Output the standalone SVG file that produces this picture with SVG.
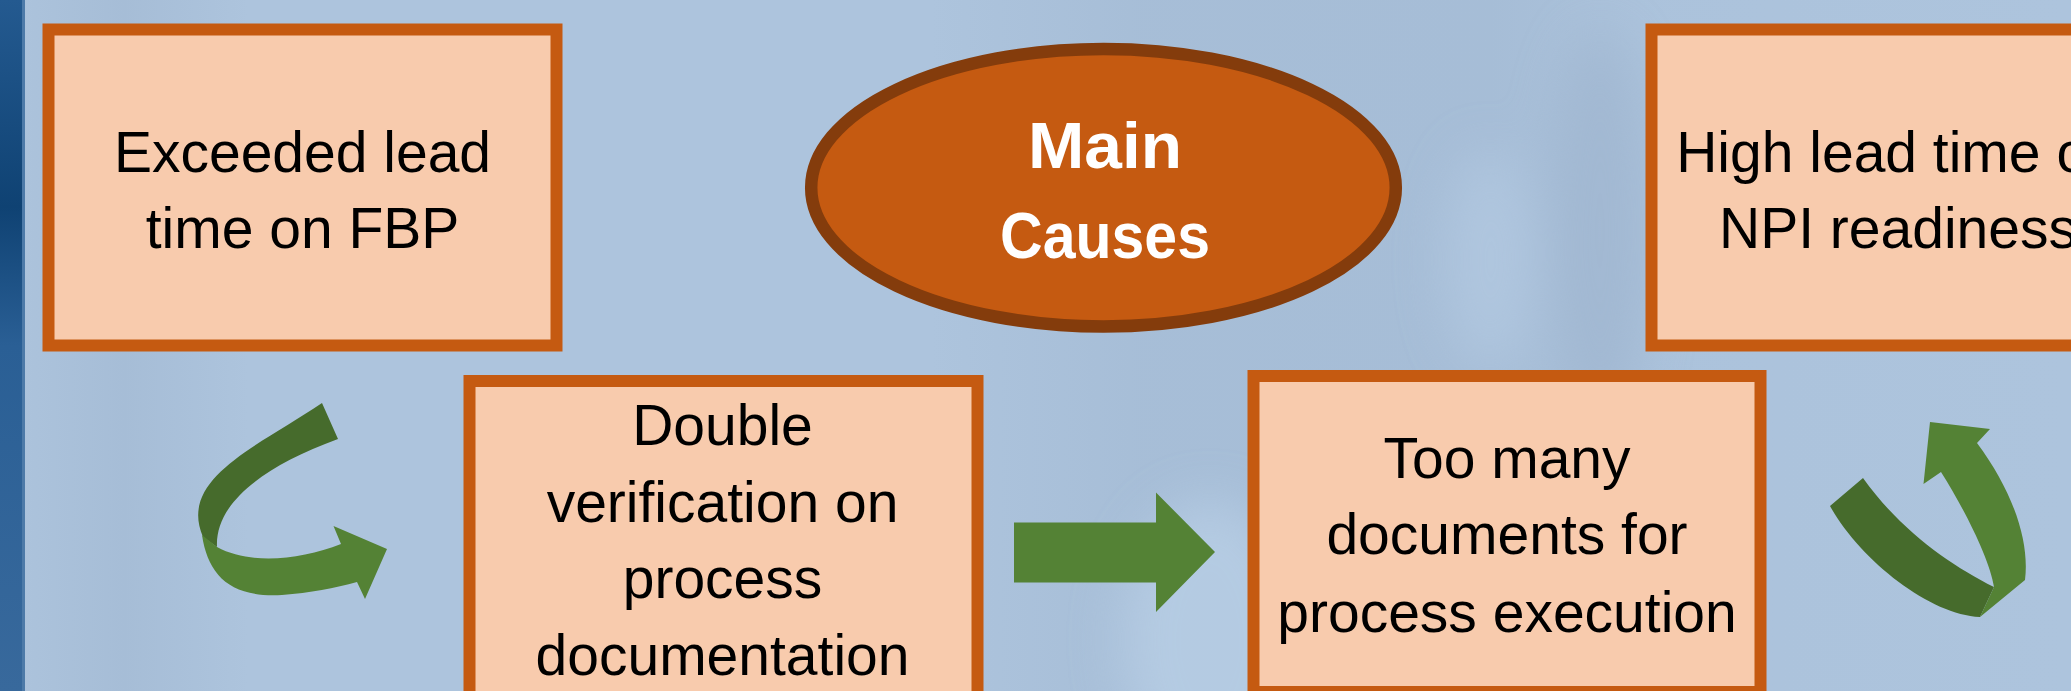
<svg xmlns="http://www.w3.org/2000/svg" width="2071" height="691" viewBox="0 0 2071 691">
  <defs>
    <linearGradient id="strip" x1="0" y1="0" x2="0" y2="1">
      <stop offset="0" stop-color="#245a90"/>
      <stop offset="0.3" stop-color="#0f4273"/>
      <stop offset="0.5" stop-color="#2a5f95"/>
      <stop offset="1" stop-color="#38699c"/>
    </linearGradient>
    <linearGradient id="bands" x1="0" y1="0" x2="1" y2="0">
      <stop offset="0" stop-color="#9fb6d0" stop-opacity="0.0"/>
      <stop offset="0.06" stop-color="#9fb6d0" stop-opacity="0.5"/>
      <stop offset="0.12" stop-color="#9fb6d0" stop-opacity="0.0"/>
      <stop offset="0.45" stop-color="#9fb6d0" stop-opacity="0.0"/>
      <stop offset="0.55" stop-color="#9fb6d0" stop-opacity="0.45"/>
      <stop offset="0.72" stop-color="#9fb6d0" stop-opacity="0.5"/>
      <stop offset="0.8" stop-color="#9fb6d0" stop-opacity="0.1"/>
      <stop offset="1" stop-color="#9fb6d0" stop-opacity="0.0"/>
    </linearGradient>
    <filter id="blur" x="-50%" y="-50%" width="200%" height="200%">
      <feGaussianBlur stdDeviation="25"/>
    </filter>
    <style>
      .box { fill: #f8cbad; stroke: #c55a11; stroke-width: 12; }
      .lbl { font-family: "Liberation Sans", Arial, sans-serif; font-size: 57px; fill: #000; text-anchor: middle; }
      .main { font-family: "Liberation Sans", Arial, sans-serif; font-size: 64px; font-weight: bold; fill: #fff; text-anchor: middle; }
      .green { fill: #548235; }
      .dgreen { fill: #466b2c; }
    </style>
  </defs>

  <!-- background -->
  <rect x="0" y="0" width="2071" height="691" fill="#adc4dd"/>
  <rect x="0" y="0" width="2071" height="691" fill="url(#bands)"/>
  <g filter="url(#blur)" opacity="0.6">
    <ellipse cx="1210" cy="640" rx="90" ry="140" fill="#bed4ea"/>
    <ellipse cx="1490" cy="260" rx="45" ry="110" fill="#b6cce4"/>
    <ellipse cx="1600" cy="230" rx="50" ry="200" fill="#9db3cd"/>
  </g>
  <rect x="0" y="0" width="22" height="691" fill="url(#strip)"/>
  <rect x="22" y="0" width="3" height="691" fill="#4d7aa8"/>

  <g id="connectors">
    <!-- left curved arrow -->
    <path class="dgreen" d="M322,403 C 255,448 178,479 203,537 L 217,547 C 215,505 259,468 338,439 Z"/>
    <path class="green" d="M202,535 C 208,575 230,598 282,595 C 310,593 335,588 357,582 L 365,599 L 387,549 L 333.5,526 L 341,544 C 300,560 250,565 217,547 Z"/>
    <!-- block arrow -->
    <path class="green" d="M1014,522.5 L1156,522.5 L1156,492.5 L1215,552 L1156,612 L1156,582.5 L1014,582.5 Z"/>
    <!-- right curved arrow -->
    <path class="dgreen" d="M1830,506 C 1860,560 1930,615 1980,617 L 1994,587 C 1950,565 1900,530 1863,478 Z"/>
    <path class="green" d="M1980,617 L 2025,580 C 2030,540 2012,490 1977,443 L 1990,429 L 1930,422 L 1923.5,484 L 1941,472 C 1965,510 1990,560 1994,587 Z"/>
  </g>

  <g id="node-exceeded">
    <rect class="box" x="48.5" y="29.5" width="508" height="316"/>
    <text class="lbl" x="302.5" y="171.7">Exceeded lead</text>
    <text class="lbl" x="302.5" y="248.3">time on FBP</text>
  </g>

  <g id="node-main">
    <ellipse cx="1103.5" cy="187.7" rx="292.3" ry="138.8" fill="#c55a11" stroke="#843c0c" stroke-width="12.5"/>
    <text class="main" x="1105" y="168.3" textLength="154" lengthAdjust="spacingAndGlyphs">Main</text>
    <text class="main" x="1105" y="258.3" textLength="210" lengthAdjust="spacingAndGlyphs">Causes</text>
  </g>

  <g id="node-high">
    <rect class="box" x="1651.5" y="29.5" width="508" height="316"/>
    <text class="lbl" x="1898" y="171.7">High lead time on</text>
    <text class="lbl" x="1898" y="248.3">NPI readiness</text>
  </g>

  <g id="node-double">
    <rect class="box" x="469.5" y="381" width="508" height="330"/>
    <text class="lbl" x="722.5" y="445">Double</text>
    <text class="lbl" x="722.5" y="521.7">verification on</text>
    <text class="lbl" x="722.5" y="598.3">process</text>
    <text class="lbl" x="722.5" y="675">documentation</text>
  </g>

  <g id="node-toomany">
    <rect class="box" x="1253.5" y="376" width="507" height="316"/>
    <text class="lbl" x="1507" y="478.3">Too many</text>
    <text class="lbl" x="1507" y="554">documents for</text>
    <text class="lbl" x="1507" y="631.7">process execution</text>
  </g>
</svg>
